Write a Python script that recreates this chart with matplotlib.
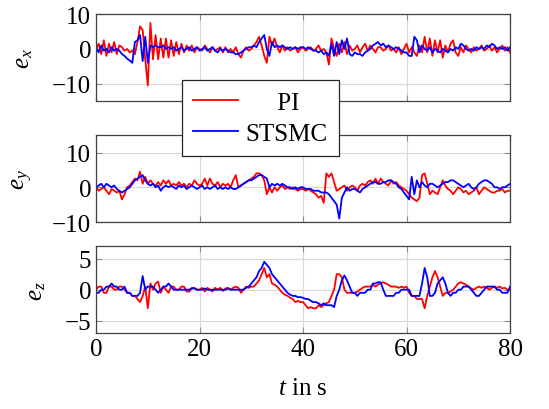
import numpy as np
import matplotlib
matplotlib.use("Agg")
import matplotlib.pyplot as plt

plt.rcParams["font.family"] = ["Liberation Serif", "DejaVu Serif"]
plt.rcParams["mathtext.fontset"] = "custom"
plt.rcParams["mathtext.rm"] = "Liberation Serif"
plt.rcParams["mathtext.it"] = "Liberation Serif:italic"
plt.rcParams["font.size"] = 18

# time grid: one sample every 0.5 s, 0..80 s
t = np.arange(161) * 0.5

ex_pi = [
    0, 1.5, -1.5, 2.5, -2, 1.5, -1, 2, -1.5, 1,
    0.5, -0.5, 0, -1, -0.5, -1.5, 2, 6.5, 5.5, -3,
    -10.5, 7.5, -3, 4, -3, 3, -2.5, 3, -2.5, 2.5,
    -2, 2, -1.5, 1.5, -1, 1, -0.5, 1, -1, 0.5,
    0, -0.5, 1, 0, -1, 0.5, -0.5, 0, 0.5, -1,
    0.5, -1, 0, -1, 0.5, -1.5, -2.5, -0.5, 0.5, -0.5,
    0, 1, 2, 3.5, 1, -2, -4, 3.5, 1, 3,
    0.5, -1, 1, -0.5, 0.5, -0.5, 0, 0.5, -1, 0,
    0.5, -0.5, 0, 0.5, -0.5, 0, 1, -0.5, 0, -1,
    -4.5, 3, 0, -2, 1.5, -1, 2, -1.5, 1, -0.5,
    0, 1, -1, 0.5, 1.5, -0.5, 1, 0, -1, 0.5,
    0.5, -0.5, 0, 1, -0.5, 0, -1, 0.5, -1.5, 0,
    1.5, -1, 0.5, -1, -2, 1, -1, 3.5, -1, 3,
    -2, 2.5, -1, 2.5, -2.5, 1, -1, 1.5, 2.5, -1,
    -2, 0.5, -1, 1, 0, -1, 0.5, -0.5, 0, 1,
    -0.5, 0, 1, -0.5, 0.5, -1, 0, 1, -0.5, 0.5,
    -1,
]
ex_smc = [
    0.5, -1, 1, -0.5, 0, -1, 0.5, -0.5, 0, -0.5,
    -1.5, -2, -2.8, -3.3, -4, 2, 2.5, 4, -3.5, 3.5,
    -4, 1, 0.5, 1, 0.5, 0.5, 1, 0, 0.5, 0,
    0.5, -0.5, 0, 0.5, -0.5, 0, 0.5, -0.5, 0, 0.5,
    -0.5, 0, 0.5, -0.5, 0, 0.5, -0.5, -1, 0, -0.5,
    0, -0.5, -1, -1, -1.5, -1.5, -1, -0.5, 0, 0.5,
    0.5, 1, 0.5, 2, 3, 4, 0, -2, 2, 0.5,
    1, 0.5, 1, 0.5, 0, 0.5, 0, 0.5, 0, 0.5,
    0.5, 0, 0.5, 0, -0.5, -0.5, -1, -0.5, -1.5, -1,
    -2, 1.5, -2, 2, -1.5, 2.5, 0, 3, -1.5, -2,
    -1, -1.5, -1.5, -2, -1, -0.5, 0, 1, 1.5, 2,
    1, 1.5, 0.5, 1, 0.5, 0, 0.5, 0, -0.5, -1,
    -1, -2, -2, 3.5, 2.5, -1, 1, 0, -0.5, 0.5,
    -1, 0, -0.5, -1, 0, -0.5, -1, 0, -0.5, 0.5,
    0, 1.5, 1, 0, -0.5, 0, -0.5, 0.5, 0, 0.5,
    0, 1, 0.5, 1.5, 1, 0, 0.5, 0, 0.5, -0.5,
    0.5,
]

ey_pi = [
    0, -1, -0.5, 0, -1, -2, -0.5, -1, -1.5, -1,
    -3.5, -2, 0, 0.5, 1.5, 2.5, 2, 4.5, 1, 3,
    1, 2, 1, 0.5, 1.5, 0.5, 2, 1, 2, 0.5,
    1, 0.5, 1.5, 0.5, 1, 0, 1, 0.5, 2, 1,
    0.5, 1, 2.5, 0.5, 2.5, 1, 0.5, 1.5, 0, 1,
    0.5, 1, 0, 2, 3.5, 0, 0.5, 1, 1.5, 2,
    2.5, 3, 4, 4, 3.5, 2, -2, 0, -1.5, 0,
    -1, 0, 0.5, -0.5, 0, -0.5, 0, -0.5, -1, -0.5,
    -0.5, -1, -0.5, -1, -1.5, -2, -3, -2.5, -4.5, 4,
    3, 4, 1.5, -1, -0.5, 0, 0.5, -1, 0, 0.5,
    0, -1, 0.5, 1, 0.5, 1.5, 2, 1, 2.5, 1,
    2.5, 1.5, 1, 0.5, 2, 1, 1.5, 0.5, 0, -0.5,
    -1, -2, -3, -3.5, -4, -3, 3.5, 4, 1, -2,
    -1, -1.5, -2, 0, 2, 0.5, -0.5, -1, -2, -1,
    0, -0.5, -1.5, -1, -2, -1.5, -1, 0, -2, -1,
    0, -0.5, -1, -1.5, -1.5, -1, -1, -0.5, -1.5, -1,
    -1,
]
ey_smc = [
    0, 0.5, 1, 0, 1, 0.5, 0, 0.5, -0.5, -1,
    -1.5, -1, -0.5, 0, 1, 2, 2.5, 3, 3.5, 2,
    1, 0.5, 1, 0, 0.5, -1, 0, 0.5, 0, 0.5,
    0, -0.5, 0.5, 0, 0.5, -0.5, 0, 0.5, 0, -0.5,
    0, 0.5, -0.5, 0, -0.5, 0, 0.5, -0.5, 0, -0.5,
    0, -0.5, 0, -0.5, -0.5, 0, 0.5, 1, 1.5, 2,
    2, 2.5, 3, 3.5, 3.5, 3, 2.5, 0, 1, 0.5,
    1, 0.5, 1, 0.5, 0, 0, -0.5, 0, -0.5, 0,
    0, -0.5, -0.5, -0.5, -1, -1, -1, -1.5, -1.5, -1.5,
    -2, -3, -4, -5, -9, -3, -1.5, 0, -1, -0.5,
    -0.5, -1, -1.5, -0.5, 0, 0.5, 1, 1.5, 1.5, 1,
    1, 1.5, 1.5, 2, 2, 1.5, 1, 0, -0.5, -1.5,
    -2.5, -3.5, 3, -2, 2, 0, 1.5, 0.5, 0, 1,
    1, 0.5, 0, 0.5, 1, 1.5, 1.5, 2, 2, 1.5,
    1, 0.5, 0, 0.5, 1, 0, -0.5, 0, 1, 1.5,
    2, 2, 1.5, 1, 0, 0, -0.5, 0, 0, 0.5,
    1,
]

ez_pi = [
    0, 0.5, 0.5, -0.5, -0.5, 0.5, 0.5, 0, 0, 0.5,
    0.5, 0, -0.5, -0.5, -1, -1, -1.5, -2, -1, 0.5,
    -3, 1, 0, 1, 1.3, -0.5, 0.5, 0, -0.5, 0.5,
    0.5, 0, 0, 0.5, 0.5, -0.3, -0.3, 0.3, 0.3, 0,
    0, 0.3, -0.3, 0.3, 0, -0.3, 0.3, 0, 0.3, -0.2,
    0.2, 0.3, 0, 0.3, 0.5, 0.3, -0.5, 0, 0.5, 0.3,
    0.5, 0.5, 1, 1.5, 2.5, 3.5, 2, 2.5, 1, 0.8,
    0.5, 0, -0.5, -0.8, -1, -1.3, -1.5, -2, -1.8, -2,
    -2, -2.5, -3, -2.8, -3, -3, -2.5, -2.8, -2.5, -2.2,
    -2, -1, 0, 2.5, 2.5, 2, 0, -0.5, -0.5, -0.5,
    -0.5, -0.3, 0, 0.3, 0.5, 0.5, 0.5, 0.8, 0.5, 0.8,
    1, 1.2, 1, 0.8, 0.5, 0.5, 0.5, 0.3, 0.5, 0.3,
    0.5, -0.5, -1, -1, -1.5, -1.5, -1.5, -3, -1, 0.5,
    2, 3, 2, 0.5, -1, -0.5, -0.5, -0.3, 0, 0.5,
    1, 1.2, 1, 0.8, 0.5, 0.2, 0, 0.3, 0.5, 0.3,
    0.5, 0.3, 0, 0.3, 0.5, 0.3, 0.5, 0.2, 0.3, 0,
    0,
]
ez_smc = [
    -0.5, -0.5, 0, 0, 0.5, 0.5, 1, 0.5, 0.5, 0,
    0, 0.5, -0.5, -0.5, -1, -1, -1, -0.5, 2.2, 0,
    0.5, 0.5, 0.5, 0, -0.5, 0, 0.5, 0.5, 1, 0.5,
    0, 0, 0, 0, 0, 0, 0, 0.2, 0.2, 0,
    0, 0, 0.2, 0, 0, 0, 0, 0, 0, 0,
    0, 0.2, 0, 0, 0, 0, 0, 0, 0.3, 0.5,
    1, 1.5, 2, 3, 3.5, 4.5, 4, 3.5, 2.5, 2,
    1.5, 1, 0.5, 0, -0.5, -0.8, -1, -1, -1.2, -1.2,
    -1.3, -1.5, -1.5, -1.8, -2, -2, -2.2, -2.5, -2.2, -2.5,
    -2.5, -2.5, -2.8, -1, 0, 1.5, 2.3, 1.5, 0.5, -0.5,
    -0.5, -1, -0.5, -0.5, -0.5, 0, 0, 1, 1, 1.2,
    1.2, 0, -1, -1, -1, -1, -0.5, -0.5, 0, 0,
    0, 0, -1, -1, -1, -1, 1, 3.5, 2, -1,
    -1, -0.5, 1, 1.5, 2, 1, -0.5, -1, -0.5, -0.5,
    0, 0, 0.5, 0.5, 0.5, 0, -0.5, -1, -1, -0.5,
    0, 0.5, 0.5, 0.5, 0.5, 0, 0, -0.5, -0.5, -0.5,
    0.5,
]

panels = [
    ("$e_x$", ex_pi, ex_smc, (-15, 10), [-10, 0, 10]),
    ("$e_y$", ey_pi, ey_smc, (-10, 15), [-10, 0, 10]),
    ("$e_z$", ez_pi, ez_smc, (-7, 7), [-5, 0, 5]),
]

fig = plt.figure(figsize=(5.49, 4.10), dpi=100)
left, width, height = 0.175, 0.754, 0.212
bottoms = [0.751, 0.456, 0.185]

axes = []
for (label, pi, smc, ylim, yticks), b in zip(panels, bottoms):
    ax = fig.add_axes([left, b, width, height])
    ax.plot(t, pi, color="#ff0000", lw=1.3, label="PI")
    ax.plot(t, smc, color="#0000ff", lw=1.3, label="STSMC")
    ax.set_xlim(0, 80)
    ax.set_ylim(*ylim)
    ax.set_xticks([0, 20, 40, 60, 80])
    ax.set_yticks(yticks)
    ax.set_ylabel(label, labelpad=12)
    ax.grid(True, color="#d9d9d9", lw=0.8)
    ax.set_axisbelow(True)
    ax.tick_params(direction="in", length=4, color="#8c8c8c",
                   top=True, right=True, pad=3.5)
    for s in ax.spines.values():
        s.set_color("#404040")
        s.set_linewidth(0.9)
    axes.append(ax)

for ax in axes[:2]:
    ax.tick_params(labelbottom=False)
axes[2].set_xlabel("$t$ in s", labelpad=12)

# pgfplots centres the legend text; pad the short label to match
handles, labels = axes[0].get_legend_handles_labels()
labels = ["     PI", "STSMC"]
leg = fig.legend(handles, labels, loc="upper left",
                 bbox_to_anchor=(182 / 549, 1 - 81 / 410),
                 borderaxespad=0, fancybox=False, framealpha=1,
                 edgecolor="#262626", handlelength=1.8, handletextpad=0.3,
                 borderpad=0.45, labelspacing=0.35, fontsize=18)
leg.get_frame().set_linewidth(0.9)

fig.savefig("out.png", dpi=100)
